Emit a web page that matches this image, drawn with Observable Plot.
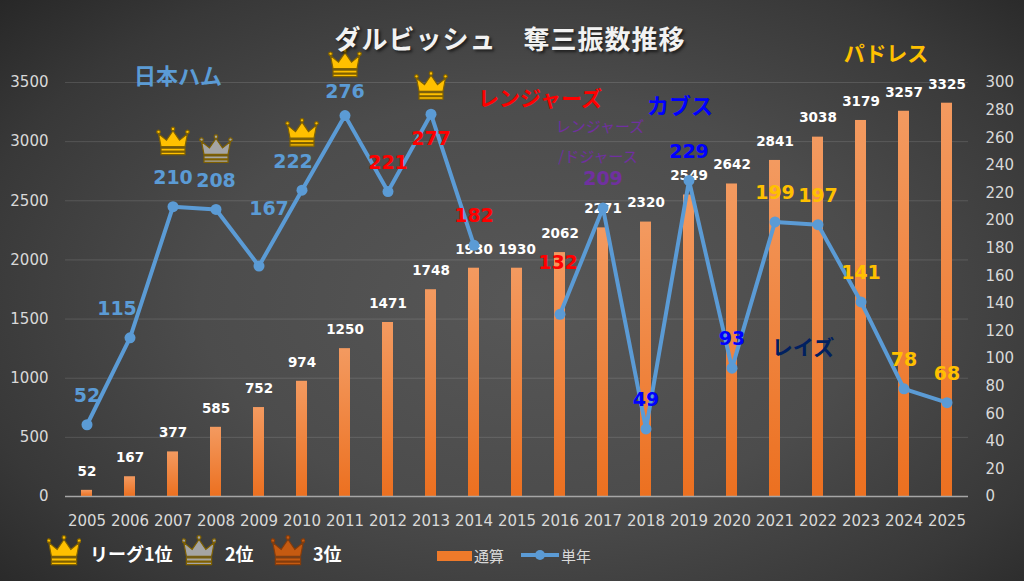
<!DOCTYPE html>
<html><head><meta charset="utf-8">
<script src="https://cdn.jsdelivr.net/npm/d3@7"></script>
<script src="https://cdn.jsdelivr.net/npm/@observablehq/plot@0.6"></script>
<style>
body{margin:0;background:#2a2a2a;}
#wrap{position:relative;width:1024px;height:581px;overflow:hidden;
 background:radial-gradient(ellipse 72% 78% at 52% 52%, #575757 0%, #4c4c4c 45%, #383838 78%, #262626 100%);
 font-family:"Noto Sans CJK JP",sans-serif;}
#chart{position:absolute;left:0;top:0;}
.ann{position:absolute;font-weight:bold;white-space:nowrap;transform:translate(-50%,-50%);line-height:1;}
.lg{position:absolute;white-space:nowrap;line-height:1;transform:translateY(-50%);}
</style></head><body>
<div id="wrap">
 <div id="chart"></div>
 <div class="ann" style="left:510px;top:38px;font-size:26px;color:#F2F2F2;letter-spacing:1px;text-shadow:2px 2px 3px rgba(0,0,0,0.6);">ダルビッシュ　奪三振数推移</div>
 <div class="ann" style="left:178px;top:74px;font-size:22px;color:#5B9BD5;">日本ハム</div>
 <div class="ann" style="left:540px;top:97px;font-size:21px;color:#FF0000;">レンジャーズ</div>
 <div class="ann" style="left:600px;top:125px;font-size:15px;color:#7030A0;font-weight:normal;">レンジャーズ</div>
 <div class="ann" style="left:598px;top:155px;font-size:15px;color:#7030A0;font-weight:normal;">/ドジャース</div>
 <div class="ann" style="left:680px;top:104px;font-size:22px;color:#0000FF;">カブス</div>
 <div class="ann" style="left:803px;top:346px;font-size:21px;color:#002060;">レイズ</div>
 <div class="ann" style="left:886px;top:52px;font-size:21px;color:#FFC000;">パドレス</div>
 <div id="legend"></div>
</div>
<script>
const years = [2005,2006,2007,2008,2009,2010,2011,2012,2013,2014,2015,2016,2017,2018,2019,2020,2021,2022,2023,2024,2025];
const cumulative = [52,167,377,585,752,974,1250,1471,1748,1930,1930,2062,2271,2320,2549,2642,2841,3038,3179,3257,3325];
const annual = [52,115,210,208,167,222,276,221,277,182,null,132,209,49,229,93,199,197,141,78,68];
const teams = ["日本ハム","日本ハム","日本ハム","日本ハム","日本ハム","日本ハム","日本ハム",
  "レンジャーズ","レンジャーズ","レンジャーズ","レンジャーズ","レンジャーズ",
  "レンジャーズ/ドジャース","カブス","カブス","カブス",
  "パドレス","パドレス","パドレス","パドレス","パドレス"];
const teamColors = {"日本ハム":"#5B9BD5","レンジャーズ":"#FF0000","レンジャーズ/ドジャース":"#7030A0","カブス":"#0000FF","パドレス":"#FFC000"};
const crownYears = [2007,2008,2010,2011,2013];
const crownRanks = [1,2,1,1,1];
const rankFill = {1:"#FFC000",2:"#A5A5A5",3:"#C55A11"};
const rankStroke = {1:"#7F6000",2:"#7F6000",3:"#843C0C"};
const leftTicks = [0,500,1000,1500,2000,2500,3000,3500];
const rightTicks = [0,20,40,60,80,100,120,140,160,180,200,220,240,260,280,300];
const leftMax = 3500, rightMax = 300;
const k = leftMax / rightMax;

// label placement (pixel nudges, kept apart from the data)
const labelNudge = {2006:[-13,-29], 2009:[10,-57], 2010:[-9,-28], 2011:[0,-24], 2013:[0,25], 2016:[-2,-51]};
const defaultNudge = [0,-29];
const crownLift = {2007:-65, 2008:-60, 2010:-57, 2011:-52, 2013:-28};

const rows = years.map((y, i) => ({year: y, cum: cumulative[i], annual: annual[i], team: teams[i]}));
const pts = rows.filter(d => d.annual != null);
const crowns = crownYears.map((y, i) => ({year: y, rank: crownRanks[i], annual: annual[years.indexOf(y)]}));

function drawCrown(ctx, s) {
  ctx.moveTo(-12*s, 5*s);
  ctx.lineTo(-14.5*s, -8*s);
  ctx.lineTo(-6.5*s, -1.5*s);
  ctx.lineTo(0, -11*s);
  ctx.lineTo(6.5*s, -1.5*s);
  ctx.lineTo(14.5*s, -8*s);
  ctx.lineTo(12*s, 5*s);
  ctx.closePath();
  ctx.rect(-12*s, 6.5*s, 24*s, 3*s);
  ctx.rect(-12*s, 10.5*s, 24*s, 2.5*s);
  const balls = [[-14.5,-9.8],[0,-12.8],[14.5,-9.8]];
  for (const [bx, by] of balls) {
    ctx.moveTo((bx+1.8)*s, by*s);
    ctx.arc(bx*s, by*s, 1.8*s, 0, 2*Math.PI);
  }
}
const crownSymbol = {draw(ctx, size) { const r = Math.sqrt(size/Math.PI); drawCrown(ctx, r/15); }};

const ann = d => d.annual * k;
const labelFont = {fontFamily:"DejaVu Sans", fontWeight:"bold", fontSize:19};

const labelMarks = Array.from(d3.group(pts, d => (labelNudge[d.year] || defaultNudge).join(",")), ([key, group]) => {
  const [dx, dy] = key.split(",").map(Number);
  return Plot.text(group, {x: "year", y: ann, text: d => String(d.annual), fill: d => teamColors[d.team], dx, dy, ...labelFont});
});
const crownMarks = Array.from(d3.group(crowns, d => crownLift[d.year]), ([dy, group]) =>
  Plot.dot(group, {x: "year", y: ann, symbol: crownSymbol, r: 15, fill: d => rankFill[d.rank], stroke: d => rankStroke[d.rank], strokeWidth: 1.2, dy})
);

const plot = Plot.plot({
  width: 1024, height: 581,
  marginLeft: 65, marginRight: 56, marginTop: 82, marginBottom: 85,
  style: {background: "transparent", color: "#D9D9D9", fontFamily: "DejaVu Sans", fontSize: "15px", overflow: "visible"},
  x: {type: "band", domain: years, paddingInner: 0.75, paddingOuter: 0.375},
  y: {domain: [0, leftMax]},
  marks: [
    () => {
      const defs = d3.create("svg:defs");
      const g = defs.append("linearGradient").attr("id", "barGrad").attr("x1", 0).attr("y1", 0).attr("x2", 0).attr("y2", 1);
      g.append("stop").attr("offset", "0%").attr("stop-color", "#F39A60");
      g.append("stop").attr("offset", "100%").attr("stop-color", "#EC7020");
      return defs.node();
    },
    Plot.ruleY(leftTicks.filter(v => v > 0), {stroke: "#ffffff", strokeOpacity: 0.13}),
    Plot.axisY(leftTicks, {anchor: "left", tickSize: 0, tickPadding: 17, label: null, tickFormat: v => String(v)}),
    Plot.axisY(rightTicks.map(v => v * k), {anchor: "right", tickSize: 0, tickPadding: 17, label: null, tickFormat: v => String(Math.round(v / k))}),
    Plot.axisX({tickSize: 0, tickPadding: 19, label: null, tickFormat: d => String(d)}),
    Plot.barY(rows, {x: "year", y: "cum", fill: "url(#barGrad)"}),
    Plot.ruleY([0], {stroke: "#A6A6A6", strokeWidth: 1.3}),
    Plot.text(rows, {x: "year", y: "cum", text: d => String(d.cum), dy: -19, fill: "#FFFFFF", fontFamily: "DejaVu Sans", fontWeight: "bold", fontSize: 13.5}),
    Plot.line(rows, {x: "year", y: d => d.annual == null ? NaN : d.annual * k, stroke: "#5B9BD5", strokeWidth: 4, strokeLinejoin: "round"}),
    Plot.dot(pts, {x: "year", y: ann, r: 5.5, fill: "#5B9BD5"}),
    ...labelMarks,
    ...crownMarks
  ]
});
document.getElementById("chart").appendChild(plot);

// legend
function crownSvg(rank) {
  const p = d3.path();
  drawCrown(p, 1.05);
  return `<svg width="34" height="32" viewBox="-17 -16 34 32" style="position:absolute;"><path d="${p}" fill="${rankFill[rank]}" stroke="${rankStroke[rank]}" stroke-width="1.2"/></svg>`;
}
const legendItems = [
  {rank: 1, label: "リーグ1位", cx: 64, tx: 90},
  {rank: 2, label: "2位", cx: 199, tx: 225},
  {rank: 3, label: "3位", cx: 288, tx: 313}
];
let html = "";
for (const it of legendItems) {
  html += `<div style="position:absolute;left:${it.cx-17}px;top:${551-16}px;width:34px;height:32px;">${crownSvg(it.rank)}</div>`;
  html += `<div class="lg" style="left:${it.tx}px;top:553px;font-size:18px;font-weight:bold;color:#FFFFFF;">${it.label}</div>`;
}
html += `<div style="position:absolute;left:437px;top:551px;width:35px;height:10px;background:#EF7A2A;"></div>`;
html += `<div class="lg" style="left:474px;top:555px;font-size:15px;color:#D9D9D9;">通算</div>`;
html += `<svg style="position:absolute;left:519px;top:545px;" width="42" height="20"><line x1="2" y1="10" x2="40" y2="10" stroke="#5B9BD5" stroke-width="4"/><circle cx="21" cy="10" r="5" fill="#5B9BD5"/></svg>`;
html += `<div class="lg" style="left:561px;top:555px;font-size:15px;color:#D9D9D9;">単年</div>`;
document.getElementById("legend").innerHTML = html;
</script>
</body></html>
